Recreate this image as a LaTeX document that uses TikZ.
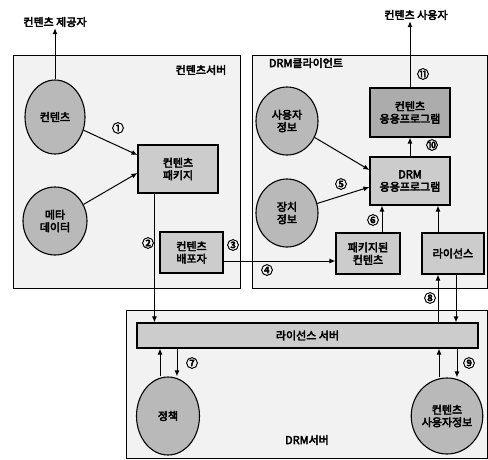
\documentclass[tikz,border=0pt]{standalone}
\usepackage{fontspec}
\setmainfont{Noto Sans CJK KR}[AutoFakeBold=4]
\usetikzlibrary{shapes.geometric,arrows.meta}
\tikzset{
  panel/.style={draw=black, line width=1.2pt, fill=gray!10, anchor=north west, inner sep=0pt},
  ell/.style={ellipse, draw=black, line width=1.1pt, fill=gray!55, inner sep=0pt, align=center,
     font=\bfseries\fontsize{11}{12.5}\selectfont},
  boxn/.style={rectangle, draw=black, line width=1.1pt, fill=gray!40, inner sep=0pt, align=center,
     font=\bfseries\fontsize{11}{12.5}\selectfont},
  lbl/.style={font=\bfseries\fontsize{11}{13}\selectfont, inner sep=1pt},
  num/.style={font=\bfseries\fontsize{12}{13}\selectfont, inner sep=0pt},
  arr/.style={-{Latex[length=6pt,width=5pt]}, line width=1pt}
}
\begin{document}
\begin{tikzpicture}[x=1pt,y=-1pt]
\useasboundingbox (0,0) rectangle (488,459);
% panels
\node[panel, minimum width=227pt, minimum height=233pt] (P1) at (13,55) {};
\node[panel, minimum width=235pt, minimum height=233pt] (P2) at (252,55) {};
\node[panel, minimum width=361pt, minimum height=148pt] (P3) at (126,310) {};
% titles
\node[lbl] (t1) at (201,70) {컨텐츠서버};
\node[lbl] (t2) at (306,63) {DRM클라이언트};
\node[lbl] (t3) at (307,440) {DRM서버};
\node[lbl] (prov) at (55,22) {컨텐츠 제공자};
\node[lbl] (user) at (416,15) {컨텐츠 사용자};
% ellipses
\node[ell, minimum width=60pt, minimum height=74pt] (C) at (55,117) {컨텐츠};
\node[ell, minimum width=64pt, minimum height=68pt] (M) at (55,221) {메타\\데이터};
\node[ell, minimum width=62pt, minimum height=68pt] (U) at (287,121) {사용자\\정보};
\node[ell, minimum width=62pt, minimum height=68pt] (D) at (287,213) {장치\\정보};
\node[ell, minimum width=63pt, minimum height=78pt] (Pol) at (168,416) {정책};
\node[ell, minimum width=64pt, minimum height=76pt] (CU) at (447,416) {컨텐츠\\사용자정보};
% boxes
\node[boxn, minimum width=80pt, minimum height=48pt] (PK) at (178,169) {컨텐츠\\패키지};
\node[boxn, minimum width=63pt, minimum height=41pt] (DS) at (191.5,252.5) {컨텐츠\\배포자};
\node[boxn, minimum width=64pt, minimum height=41pt] (PC) at (368,253.5) {패키지된\\컨텐츠};
\node[boxn, minimum width=62pt, minimum height=41pt] (LI) at (453,253.5) {라이선스};
\node[boxn, minimum width=80pt, minimum height=48pt] (DA) at (410,181) {DRM\\응용프로그램};
\node[boxn, fill=gray!65, minimum width=80pt, minimum height=49pt] (CA) at (410,112.5) {컨텐츠\\응용프로그램};
\node[boxn, minimum width=341pt, minimum height=25pt] (LS) at (307.5,335.5) {라이선스 서버};
% connectors
\draw[arr] (C.north) -- (C.north |- prov.south);
\draw[arr] (C) -- ([yshift=14pt]PK.west);
\draw[arr] (M) -- ([yshift=-4pt]PK.west);
\draw[arr] ([xshift=17pt]PK.south west) -- ([xshift=17pt]PK.south west |- LS.north);
\draw[arr] ([yshift=-8.5pt]DS.east) -- ([yshift=-8.5pt]DS.east -| PC.west);
\draw[arr] (U) -- ([yshift=11pt]DA.west);
\draw[arr] (D) -- ([yshift=-6pt]DA.west);
\draw[arr] ([xshift=14pt]PC.north) -- ([xshift=14pt]PC.north |- DA.south);
\draw[arr] ([xshift=-15pt]LI.north) -- ([xshift=-15pt]LI.north |- DA.south);
\draw[arr] (DA.north) -- (CA.south);
\draw[arr] (CA.north) -- (CA.north |- user.south);
\draw[arr] ([xshift=-15pt]LI.south |- LS.north) -- ([xshift=-15pt]LI.south);
\draw[arr] ([xshift=3pt]LI.south) -- ([xshift=3pt]LI.south |- LS.north);
\draw[arr] ([xshift=-8pt]Pol.north) -- ([xshift=-8pt]Pol.north |- LS.south);
\draw[arr] ([xshift=9pt]Pol.north |- LS.south) -- ([xshift=9pt]Pol.north);
\draw[arr] ([xshift=-8pt]CU.north) -- ([xshift=-8pt]CU.north |- LS.south);
\draw[arr] ([xshift=10pt]CU.north |- LS.south) -- ([xshift=10pt]CU.north);
% step numbers
\node[num] (n1) at (118,128) {①};
\node[num] (n2) at (148,243) {②};
\node[num] (n3) at (233,245) {③};
\node[num] (n4) at (267,270) {④};
\node[num] (n5) at (341,184) {⑤};
\node[num] (n6) at (373,220) {⑥};
\node[num] (n7) at (192,363) {⑦};
\node[num] (n8) at (430,298) {⑧};
\node[num] (n9) at (469,363) {⑨};
\node[num] (n10) at (432,145) {⑩};
\node[num] (n11) at (423,74) {⑪};
\end{tikzpicture}
\end{document}
